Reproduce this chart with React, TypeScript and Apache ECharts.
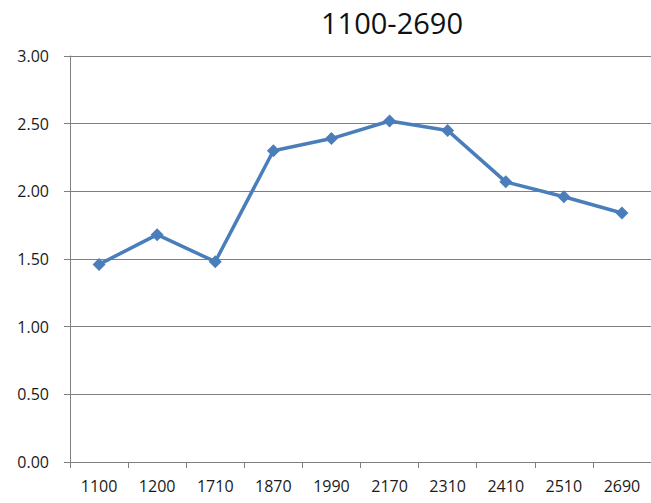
import React, { useEffect, useRef } from "react";
import * as echarts from "echarts";

const categories = ["1100", "1200", "1710", "1870", "1990", "2170", "2310", "2410", "2510", "2690"];
const values = [1.46, 1.68, 1.48, 2.3, 2.39, 2.52, 2.45, 2.07, 1.96, 1.84];
const titleText = "1100-2690";

export default function App() {
  const ref = useRef<HTMLDivElement>(null);
  useEffect(() => {
    const chart = echarts.init(ref.current!, null, { renderer: "svg" });
    const font = "'Open Sans', 'Liberation Sans', sans-serif";
    chart.setOption({
      animation: false,
      backgroundColor: "#ffffff",
      graphic: [
        {
          type: "text",
          x: 392,
          y: 22,
          style: {
            text: titleText,
            fontSize: 29,
            fontFamily: font,
            fill: "#111111",
            textAlign: "center",
            textVerticalAlign: "middle",
          },
        },
      ],
      grid: { left: 70, top: 56, width: 585, height: 406, containLabel: false },
      xAxis: {
        type: "category",
        data: categories,
        boundaryGap: true,
        axisLine: { lineStyle: { color: "#7f7f7f", width: 1 } },
        axisTick: { show: true, length: 6, alignWithLabel: false, lineStyle: { color: "#7f7f7f" } },
        axisLabel: { color: "#1a1a1a", fontSize: 16, fontFamily: font, margin: 16 },
        splitLine: { show: false },
      },
      yAxis: {
        type: "value",
        min: 0,
        max: 3,
        interval: 0.5,
        axisLine: { show: true, lineStyle: { color: "#7f7f7f", width: 1 } },
        axisTick: { show: true, length: 6, lineStyle: { color: "#7f7f7f" } },
        axisLabel: {
          color: "#1a1a1a",
          fontSize: 16,
          fontFamily: font,
          margin: 21,
          formatter: (v: number) => v.toFixed(2),
        },
        splitLine: { show: true, lineStyle: { color: "#7f7f7f", width: 1 } },
      },
      series: [
        {
          type: "line",
          data: values,
          symbol: "diamond",
          symbolSize: 13,
          lineStyle: { color: "#4A7EBB", width: 3.5 },
          itemStyle: { color: "#4A7EBB" },
        },
      ],
    });
    return () => chart.dispose();
  }, []);
  return (
    <div
      ref={ref}
      style={{ position: "fixed", left: 0, top: 0, width: 651, height: 503 }}
    />
  );
}
